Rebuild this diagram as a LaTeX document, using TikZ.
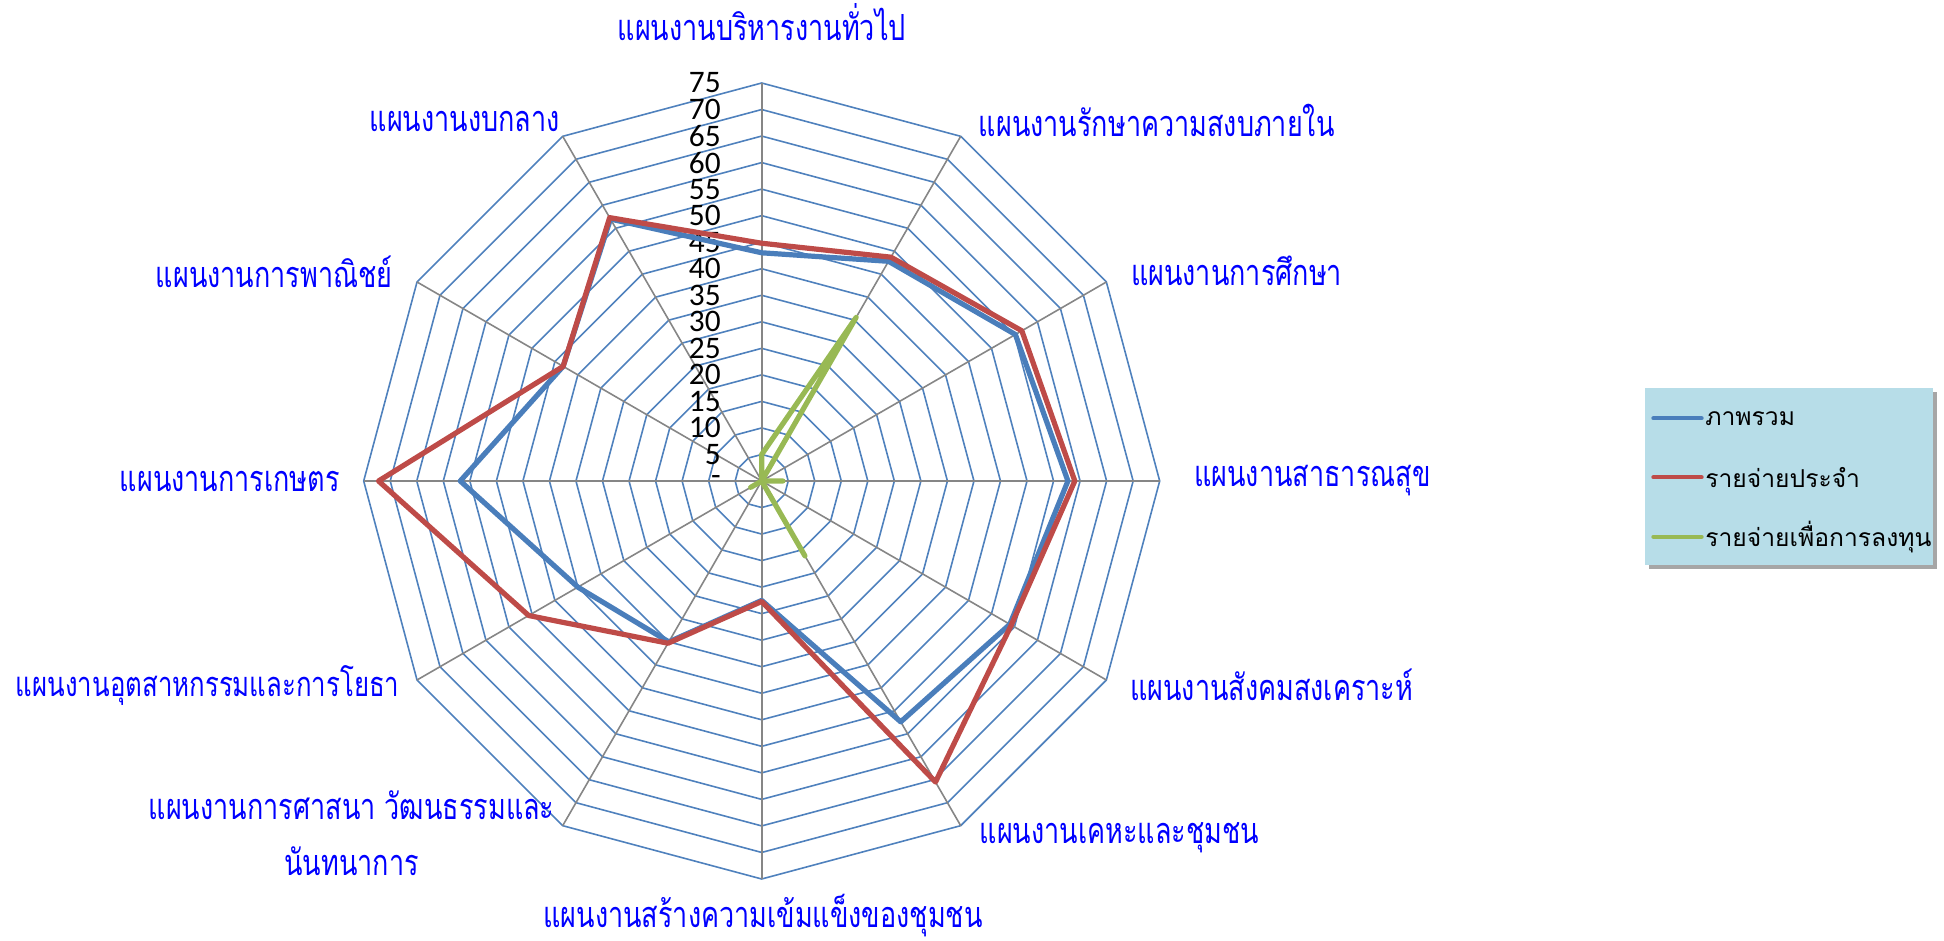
\documentclass[tikz,border=0pt]{standalone}
\usepackage{fontspec}
\newfontfamily\thaifont[Script=Thai,FakeStretch=0.75]{Loma}
\newfontfamily\legendfont[Script=Thai]{Loma}
\newfontfamily\tickfont{Carlito}

\begin{document}
\begin{tikzpicture}[x=0.75pt,y=0.75pt,
    planlabel/.style={text=r0g0b255, font=\thaifont\fontsize{27}{42}\selectfont, inner sep=0pt},
    ticklabel/.style={anchor=east, font=\tickfont\fontsize{23.5}{24}\selectfont, inner sep=0pt},
    ringline/.style={draw=r79g129b189, line width=1.2pt},
    spokeline/.style={draw=r134g134b134, line width=1.2pt},
    seriesline/.style={line width=3.9pt, line join=round},
    legendline/.style={line width=3pt, line cap=round},
    legendtext/.style={anchor=west, font=\legendfont\fontsize{18.5}{20}\selectfont, inner sep=0pt}]
                    \useasboundingbox (-761.7,-460) rectangle (1182.3,481);
                    
                    % Changing color 79 129 189
                    \definecolor{r79g129b189}{rgb}{0.309804,0.505882,0.741176}%
                    \definecolor{r134g134b134}{rgb}{0.525490,0.525490,0.525490}%
                    \definecolor{r0g0b255}{rgb}{0.000000,0.000000,1.000000}%
                    
                    % Drawing rings 5 ... 75
                    \foreach \k in {1,...,15} {%
                      \pgfmathsetmacro{\ringr}{26.533*\k}
                      \draw [ringline] (90:\ringr) \foreach \a in {60,30,...,-240} { -- (\a:\ringr) } -- cycle;%
                    }
                    
                    % Drawing spokes
                    \foreach \a in {90,60,...,-240} {%
                      \draw [spokeline] (0,0) -- (\a:398);%
                    }
                    
                    % Marking ticks - ... 75
                    \draw (-40.7,0) node [ticklabel] (tick0) { - };%
                    \foreach \k in {1,...,15} {%
                      \pgfmathsetmacro{\ticky}{26.533*\k}
                      \pgfmathtruncatemacro{\tickval}{5*\k}
                      \draw (-40.7,\ticky) node [ticklabel] (tick\k) { \tickval };%
                    }
                    
                    % Marking plan labels
                    \draw (0,459) node [planlabel, anchor=center] (planGeneral) { แผนงานบริหารงานทั่วไป };%
                    \draw (216.9,361) node [planlabel, anchor=west] (planSecurity) { แผนงานรักษาความสงบภายใน };%
                    \draw (369.1,210) node [planlabel, anchor=west] (planEducation) { แผนงานการศึกษา };%
                    \draw (432.3,0) node [planlabel, anchor=west] (planHealth) { แผนงานสาธารณสุข };%
                    \draw (368.3,-204) node [planlabel, anchor=west] (planWelfare) { แผนงานสังคมสงเคราะห์ };%
                    \draw (217.7,-357) node [planlabel, anchor=west] (planHousing) { แผนงานเคหะและชุมชน };%
                    \draw (1.3,-435) node [planlabel, anchor=center] (planCommunity) { แผนงานสร้างความเข้มแข็งของชุมชน };%
                    \draw (-207,-352) node [planlabel, anchor=east, align=center] (planReligion) { แผนงานการศาสนา วัฒนธรรมและ\\นันทนาการ };%
                    \draw (-746,-204) node [planlabel, anchor=west, font=\thaifont\fontsize{25.8}{42}\selectfont] (planIndustry) { แผนงานอุตสาหกรรมและการโยธา };%
                    \draw (-421.7,0) node [planlabel, anchor=east] (planAgriculture) { แผนงานการเกษตร };%
                    \draw (-369,209) node [planlabel, anchor=east] (planCommerce) { แผนงานการพาณิชย์ };%
                    \draw (-201.7,360) node [planlabel, anchor=east] (planCentral) { แผนงานงบกลาง };%
                    
                    % Changing color 74 126 187
                    \definecolor{r74g126b187}{rgb}{0.290196,0.494118,0.733333}%
                    \definecolor{r190g75b72}{rgb}{0.745098,0.294118,0.282353}%
                    \definecolor{r152g185b84}{rgb}{0.596078,0.725490,0.329412}%
                    
                    \begin{scope}[scale=5.307]
                    % Drawing line ภาพรวม
                    \draw [seriesline, r74g126b187] (90:43) -- (60:47.8) -- (30:55.2) -- (0:57.7) -- (-30:54) -- (-60:52.4) -- (-90:22.5) -- (-120:35) -- (-150:40) -- (180:56.8) -- (150:43.2) -- (120:57) -- cycle;%
                    
                    % Drawing line รายจ่ายประจำ
                    \draw [seriesline, r190g75b72] (90:44.8) -- (60:48.7) -- (30:56.6) -- (0:59) -- (-30:54.3) -- (-60:65.5) -- (-90:22.7) -- (-120:35.3) -- (-150:50.7) -- (180:72.2) -- (150:43.2) -- (120:57.3) -- cycle;%
                    
                    % Drawing line รายจ่ายเพื่อการลงทุน
                    \draw [seriesline, r152g185b84] (90:5) -- (60:35.6) -- (30:0) -- (0:4) -- (-30:0) -- (-60:16.3) -- (-90:0) -- (-120:0) -- (-150:2.4) -- (180:0) -- (150:0) -- (120:0) -- cycle;%
                    \end{scope}
                    
                    % Drawing legend box
                    \definecolor{r183g221b232}{rgb}{0.717647,0.866667,0.909804}%
                    \fill [black!35] (887.3,88.7) rectangle (1175.6,-88);%
                    \fill [r183g221b232] (883.3,92.7) rectangle (1171.6,-84);%
                    
                    % Drawing legend entries
                    \draw [legendline, r74g126b187] (891.6,62.7) -- (940,62.7);%
                    \draw (943.3,62.7) node [legendtext] (keyTotal) { ภาพรวม };%
                    \draw [legendline, r190g75b72] (891.6,3.7) -- (940,3.7);%
                    \draw (943.3,3.7) node [legendtext] (keyRegular) { รายจ่ายประจำ };%
                    \draw [legendline, r152g185b84] (891.6,-55.7) -- (940,-55.7);%
                    \draw (943.3,-55.7) node [legendtext] (keyInvest) { รายจ่ายเพื่อการลงทุน };%
\end{tikzpicture}
\end{document}
